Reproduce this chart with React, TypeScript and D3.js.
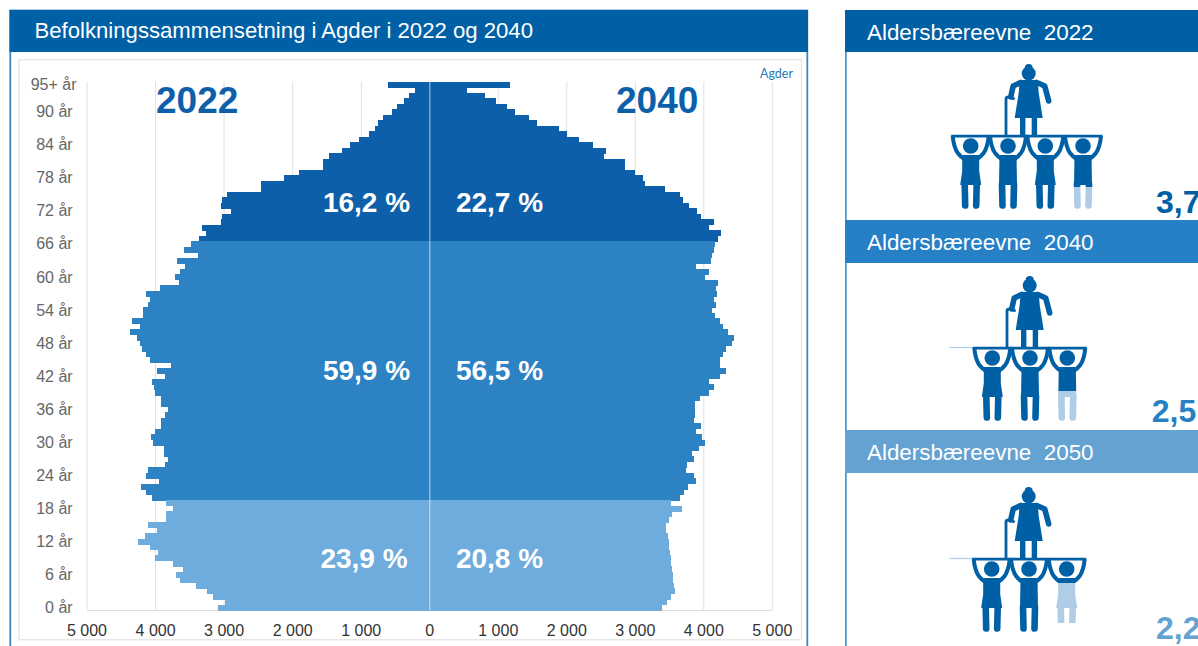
import * as d3 from 'd3';

// rows run from the top of the pyramid (95+) down to age 0
const ages = d3.range(95, -1, -1);

const pop2022 = [
  603, 214, 298, 376, 472, 555, 676, 750, 798, 886,
  1032, 1163, 1275, 1465, 1552, 1562, 1906, 2125, 2466, 2466,
  2963, 3027, 3046, 2900, 3036, 3046, 3318, 3265, 3367,
  3476, 3583, 3388, 3680, 3569, 3647, 3710, 3661, 3934, 4134,
  4085, 4114, 4177, 4177, 4347, 4226, 4372, 4270, 4231, 4202,
  4143, 4085, 3778, 3978, 3856, 4050, 4017, 4007, 3919, 3919,
  3817, 3856, 3919, 3919, 4002, 4070, 4036, 3881, 3876, 3812,
  3861, 4114, 4143, 3948, 4216, 4134, 4050,
  3846, 3739, 3841, 3841, 4104, 3978, 4153, 4250, 4075, 3963,
  4002, 3743, 3597, 3695, 3641, 3412, 3257, 3169, 2994, 3096,
];

const pop2040 = [
  1171, 538, 806, 966, 1122, 1239, 1453, 1570, 1891, 1998,
  2183, 2378, 2567, 2538, 2850, 2850, 2991, 3117, 3146, 3429,
  3652, 3691, 3784, 3896, 3959, 4154, 4081, 4246, 4212,
  4168, 4149, 4120, 4100, 3881, 4071, 4022, 4212, 4173, 4197,
  4154, 4173, 4125, 4168, 4236, 4285, 4348, 4436, 4416, 4329,
  4280, 4241, 4241, 4319, 4236, 4081, 4154, 4071, 3944, 3867,
  3871, 3871, 3852, 3954, 3881, 3969, 4012, 3925, 3833, 3862,
  3750, 3740, 3857, 3881, 3765, 3706, 3652,
  3526, 3686, 3541, 3492, 3448, 3453, 3477, 3487, 3497, 3507,
  3516, 3526, 3536, 3546, 3555, 3565, 3575, 3521, 3465, 3395,
];

const ageTicks = [95, 90, 84, 78, 72, 66, 60, 54, 48, 42, 36, 30, 24, 18, 12, 6, 0];
const popTicks = [0, 1000, 2000, 3000, 4000, 5000];

const shares2022 = ['16,2 %', '59,9 %', '23,9 %'];
const shares2040 = ['22,7 %', '56,5 %', '20,8 %'];

const ratioYears = ['2022', '2040', '2050'];
const ratioLabels = ['3,7', '2,5', '2,2'];
const supporters = [4, 3, 3];

const DARK = '#0E5FA9';
const MID = '#2C82C3';
const LIGHT = '#6DACDD';
const HEAD_1 = '#0060A5';
const HEAD_2 = '#2680C6';
const HEAD_3 = '#64A2D2';
const FAINT = '#AFCDE6';
const FONT = '"Liberation Sans", Arial, sans-serif';

const x0 = 429.8;
const xLeft = d3.scaleLinear().domain([0, 5000]).range([x0, 87]);
const xRight = d3.scaleLinear().domain([0, 5000]).range([x0, 772.3]);
const yBand = d3.scaleBand<number>().domain(ages).range([81.5, 610.3]);

const ageColor = (age: number) => (age >= 67 ? DARK : age >= 20 ? MID : LIGHT);

const fmt = (v: number) => (v === 0 ? '0' : d3.format(',')(v).replace(',', ' '));

function Old({ cx, y }: { cx: number; y: number }) {
  return (
    <g transform={`translate(${cx},${y})`} fill={HEAD_1} stroke="none">
      <circle cx={0} cy={-61.5} r={7} />
      <circle cx={0} cy={-67} r={4} />
      <path d="M-9,-55 L9,-55 L10,-42 L14,-17 L-14,-17 L-10,-42 Z" />
      <path
        d="M-8,-52.5 L-15.5,-49 L-18,-38 M8,-52.5 L16,-49 L20,-34"
        fill="none"
        stroke={HEAD_1}
        strokeWidth={5.6}
        strokeLinecap="round"
        strokeLinejoin="round"
      />
      <path d="M-22.7,0 L-22.7,-36 Q-22.7,-38 -20,-38 L-14,-36" fill="none" stroke={HEAD_1} strokeWidth={2.8} />
      <rect x={-8.7} y={-18} width={5.4} height={18} />
      <rect x={3} y={-18} width={5.4} height={18} />
    </g>
  );
}

function Person({ cx, y, skirt, lightFrom, id }: { cx: number; y: number; skirt: boolean; lightFrom: number | null; id: string }) {
  const shape = (
    <>
      <path d={skirt ? 'M-8.5,20 L8.5,20 L8.5,36 L10.5,50 L-10.5,50 L-8.5,36 Z' : 'M-8.5,20 L8.5,20 L9,50 L-9,50 Z'} />
      <path
        d="M-6,49 L-5.5,70.5 M6,49 L5.5,70.5"
        fill="none"
        stroke="currentColor"
        strokeWidth={6.6}
        strokeLinecap="round"
      />
    </>
  );
  return (
    <g transform={`translate(${cx},${y})`} color={HEAD_1} fill={HEAD_1}>
      <path d="M-19.5,1.2 L19.5,1.2" stroke={HEAD_1} strokeWidth={2.8} />
      <path
        d="M-18,1 Q-17,12 -13,18 Q-10,22 -5,25 M18,1 Q17,12 13,18 Q10,22 5,25"
        fill="none"
        stroke={HEAD_1}
        strokeWidth={4}
      />
      <circle cx={0} cy={11} r={7.8} />
      {lightFrom === null ? (
        shape
      ) : (
        <>
          <clipPath id={`${id}-top`}>
            <rect x={-20} y={0} width={40} height={lightFrom} />
          </clipPath>
          <clipPath id={`${id}-bot`}>
            <rect x={-20} y={lightFrom} width={40} height={40} />
          </clipPath>
          <g clipPath={`url(#${id}-top)`}>{shape}</g>
          <g clipPath={`url(#${id}-bot)`} color={FAINT} fill={FAINT}>
            {shape}
          </g>
        </>
      )}
    </g>
  );
}

function Panel({ i, top, bottom, headH, color }: { i: number; top: number; bottom: number; headH: number; color: string }) {
  return (
    <g>
      <rect x={845} y={top} width={360} height={headH} fill={color} />
      <rect x={845} y={top + headH} width={1.8} height={bottom - top - headH} fill={HEAD_2} opacity={0.8} />
      <text x={867} y={top + 30} fill="#fff" fontSize={22.4} fontFamily={FONT} style={{ whiteSpace: 'pre' }}>
        {`Aldersbæreevne  ${ratioYears[i]}`}
      </text>
    </g>
  );
}

export default function App() {
  const bandH = yBand.bandwidth();
  // figure layout for the three small pyramids on the right
  const figures = [
    { beam: 135, old: 1028.7, xs: [970.7, 1008, 1045.3, 1083], skirts: [true, false, true, false], lightFrom: 52, baseline: 213, tx: 1156, color: HEAD_1, faint: false },
    { beam: 347, old: 1029.7, xs: [992.3, 1030, 1067.3], skirts: [true, false, false], lightFrom: 44, baseline: 421.5, tx: 1151.7, color: HEAD_2, faint: true },
    { beam: 558, old: 1028.7, xs: [991.7, 1029, 1066.7], skirts: [true, false, true], lightFrom: 25, baseline: 639, tx: 1156, color: HEAD_3, faint: true },
  ];

  return (
    <svg
      width={1198}
      height={646}
      viewBox="0 0 1198 646"
      style={{ position: 'absolute', left: 0, top: 0, display: 'block', background: '#fff' }}
      fontFamily={FONT}
    >
      {/* left panel */}
      <rect x={10.3} y={10.5} width={797} height={700} fill="none" stroke="#3F86BE" strokeWidth={1.8} />
      <rect x={9.5} y={10} width={798.5} height={42} fill={HEAD_1} />
      <text x={34.5} y={38} fill="#fff" fontSize={22.15}>
        Befolkningssammensetning i Agder i 2022 og 2040
      </text>
      <rect x={18.8} y={59.7} width={782.7} height={580} fill="#fff" stroke="#E6E6E6" strokeWidth={1.4} />

      {/* grid */}
      {popTicks.slice(1).map((t) => (
        <g key={t} stroke="#E0E0E0" strokeWidth={1}>
          <line x1={xLeft(t)} x2={xLeft(t)} y1={81.5} y2={610.3} />
          <line x1={xRight(t)} x2={xRight(t)} y1={81.5} y2={610.3} />
        </g>
      ))}
      <line x1={87} x2={772.3} y1={610.5} y2={610.5} stroke="#DDD" />

      {/* pyramid */}
      <g shapeRendering="crispEdges">
        {ages.map((age, i) => (
          <g key={age} fill={ageColor(age)}>
            <rect x={xLeft(pop2022[i])} y={yBand(age)} width={x0 - xLeft(pop2022[i])} height={bandH + 0.5} />
            <rect x={x0} y={yBand(age)} width={xRight(pop2040[i]) - x0} height={bandH + 0.5} />
          </g>
        ))}
      </g>
      <line x1={x0} x2={x0} y1={81.5} y2={610.3} stroke="#fff" strokeOpacity={0.55} strokeWidth={1.2} />

      {/* axes */}
      {ageTicks.map((a) => (
        <text
          key={a}
          x={a === 95 ? 76.5 : 72.7}
          y={(yBand(a) as number) + bandH / 2 + 5.5}
          textAnchor="end"
          fontSize={16}
          fill="#666"
        >
          {a === 95 ? '95+ år' : `${a} år`}
        </text>
      ))}
      {popTicks.map((t) => (
        <g key={t} fontSize={16} fill="#333" textAnchor="middle">
          <text x={xLeft(t)} y={635.5}>{fmt(t)}</text>
          {t > 0 && <text x={xRight(t)} y={635.5}>{fmt(t)}</text>}
        </g>
      ))}

      <text x={156} y={113} fontSize={37} fontWeight="bold" fill={DARK}>2022</text>
      <text x={616} y={113} fontSize={37} fontWeight="bold" fill={DARK}>2040</text>
      <text x={793} y={78} textAnchor="end" fontSize={12.5} fontFamily="Lato, sans-serif" fill="#2A78B8">Agder</text>

      {[212, 380, 568].map((y, i) => (
        <g key={y} fontSize={28} fontWeight="bold" fill="#fff" textAnchor="middle">
          <text x={i === 2 ? 364 : 366.5} y={y}>{shares2022[i]}</text>
          <text x={499.5} y={y}>{shares2040[i]}</text>
        </g>
      ))}

      {/* right panels */}
      <Panel i={0} top={10} bottom={220} headH={42} color={HEAD_1} />
      <Panel i={1} top={220} bottom={430} headH={43} color={HEAD_2} />
      <Panel i={2} top={430} bottom={646} headH={43} color={HEAD_3} />
      {figures.map((f, i) => (
        <g key={i}>
          {f.faint && <line x1={949.5} x2={f.xs[0] - 19} y1={f.beam + 0.5} y2={f.beam + 0.5} stroke={FAINT} strokeWidth={1.2} />}
          <Old cx={f.old} y={f.beam} />
          {d3.range(supporters[i]).map((k) => (
            <Person
              key={k}
              id={`p${i}-${k}`}
              cx={f.xs[k]}
              y={f.beam}
              skirt={f.skirts[k]}
              lightFrom={k === supporters[i] - 1 ? f.lightFrom : null}
            />
          ))}
          <text x={f.tx} y={f.baseline} fontSize={32} fontWeight="bold" fill={f.color}>{ratioLabels[i]}</text>
        </g>
      ))}
    </svg>
  );
}
